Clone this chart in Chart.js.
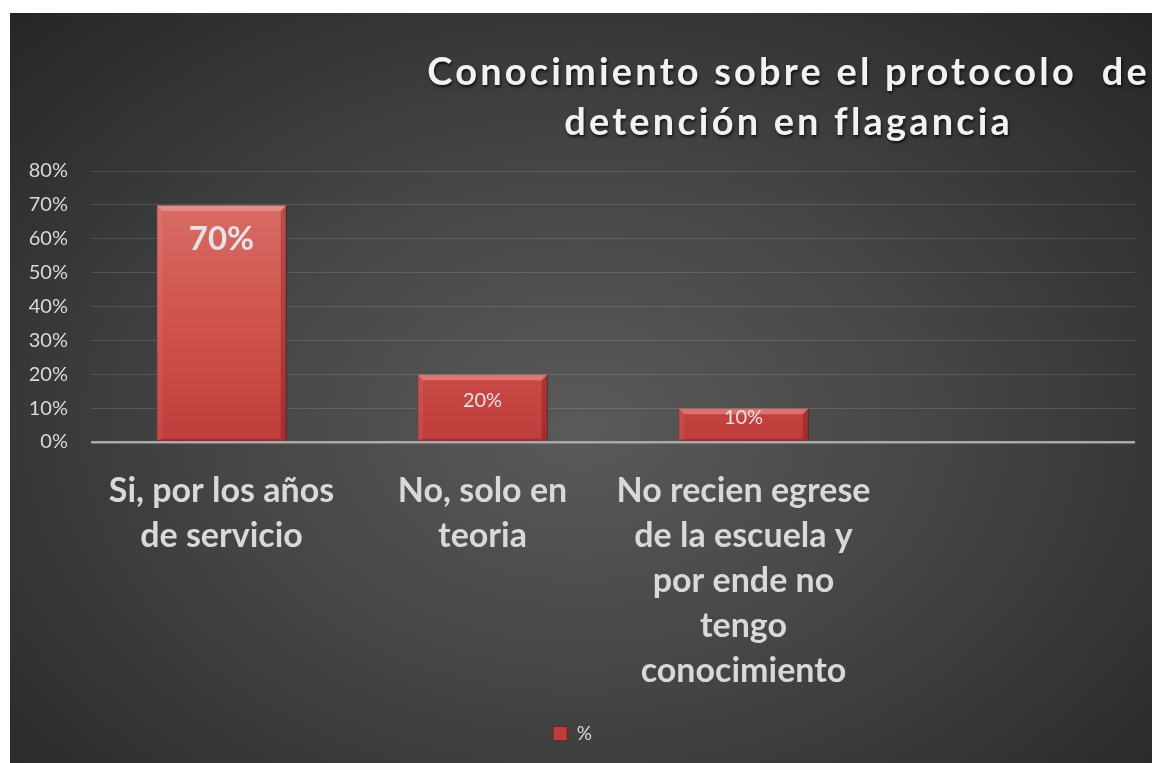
<!DOCTYPE html>
<html>
<head>
<meta charset="utf-8">
<script src="https://cdn.jsdelivr.net/npm/chart.js@4/dist/chart.umd.min.js"></script>
<style>
  html, body { margin: 0; padding: 0; background: #ffffff; width: 1152px; height: 763px; overflow: hidden; }
  #wrap {
    position: absolute; left: 10px; top: 13px; width: 1142px; height: 750px;
    background: radial-gradient(ellipse farthest-corner at 50% 55%, #5a5a5a 0%, #454545 45%, #262626 100%);
  }
  canvas { display: block; }
</style>
</head>
<body>
<div id="wrap"><canvas id="c" width="1142" height="750"></canvas></div>
<script>
// ---- data ----
const titleLines = ["Conocimiento sobre el protocolo  de", "detención en flagancia"];
const categories = [
  ["Si, por los años", "de servicio"],
  ["No, solo en", "teoria"],
  ["No recien egrese", "de la escuela y", "por ende no", "tengo", "conocimiento"],
  ""
];
const seriesName = "%";
const values = [70, 20, 10, null];
const yTicks = [0, 10, 20, 30, 40, 50, 60, 70, 80];

const TEXT = '#d9d9d9';

const titlePlugin = {
  id: 'titleDraw',
  afterDraw(chart) {
    const ctx = chart.ctx;
    ctx.save();
    ctx.font = 'bold 38px Lato';
    ctx.letterSpacing = '0px';
    const w2 = ctx.measureText(titleLines[1]).width;
    const target = 449;
    const ls = Math.max(0, (target - w2) / titleLines[1].length);
    ctx.letterSpacing = ls + 'px';
    ctx.fillStyle = '#f2f2f2';
    ctx.textAlign = 'center';
    ctx.textBaseline = 'alphabetic';
    ctx.shadowColor = 'rgba(0,0,0,0.75)';
    ctx.shadowBlur = 3;
    ctx.shadowOffsetX = 1;
    ctx.shadowOffsetY = 2;
    const cx = 777 + ls / 2;
    ctx.fillText(titleLines[0], cx, 72);
    ctx.fillText(titleLines[1], cx, 122);
    ctx.restore();
  }
};

const barDeco = {
  id: 'barDeco',
  afterDatasetsDraw(chart) {
    const ctx = chart.ctx;
    const meta = chart.getDatasetMeta(0);
    meta.data.forEach((bar, i) => {
      const v = values[i];
      if (v === null || v === undefined) return;
      const p = bar.getProps(['x', 'y', 'base', 'width'], true);
      const l = p.x - p.width / 2, r = p.x + p.width / 2, t = p.y, b = p.base;
      const bv = 6;
      ctx.save();
      ctx.beginPath();
      ctx.moveTo(l, t); ctx.lineTo(r, t); ctx.lineTo(r - bv, t + bv); ctx.lineTo(l + bv, t + bv); ctx.closePath();
      ctx.fillStyle = 'rgba(255,190,185,0.4)';
      ctx.fill();
      ctx.beginPath();
      ctx.moveTo(l, t); ctx.lineTo(l + bv, t + bv); ctx.lineTo(l + bv, b - 2); ctx.lineTo(l, b); ctx.closePath();
      ctx.fillStyle = 'rgba(255,255,255,0.06)';
      ctx.fill();
      ctx.beginPath();
      ctx.moveTo(r, t); ctx.lineTo(r - bv, t + bv); ctx.lineTo(r - bv, b - 2); ctx.lineTo(r, b); ctx.closePath();
      ctx.fillStyle = 'rgba(80,0,0,0.25)';
      ctx.fill();
      ctx.beginPath();
      ctx.moveTo(l, b); ctx.lineTo(l + bv, b - 2); ctx.lineTo(r - bv, b - 2); ctx.lineTo(r, b); ctx.closePath();
      ctx.fillStyle = 'rgba(80,0,0,0.25)';
      ctx.fill();
      const fs = i === 0 ? 33 : 20;
      ctx.font = (i === 0 ? 'bold ' : '') + fs + 'px Lato';
      ctx.fillStyle = '#e3e3e3';
      ctx.textAlign = 'center';
      ctx.textBaseline = 'middle';
      const off = Math.min(18 + fs / 2, (b - t) / 2 - 7);
      ctx.fillText(v + '%', p.x, t + off);
      ctx.restore();
    });
  }
};

function barFill(context) {
  const chart = context.chart;
  const area = chart.chartArea;
  if (!area) return '#cc4b47';
  const g = chart.ctx.createLinearGradient(0, area.top + 30, 0, area.bottom);
  g.addColorStop(0, '#d86c66');
  g.addColorStop(0.5, '#d0534d');
  g.addColorStop(1, '#bf3d3c');
  return g;
}

function build() {
  Chart.defaults.font.family = 'Lato';
  new Chart(document.getElementById('c'), {
    type: 'bar',
    data: {
      labels: categories,
      datasets: [{
        label: seriesName,
        data: values,
        backgroundColor: barFill,
        borderColor: 'rgba(110,25,25,0.7)',
        borderWidth: 1,
        barPercentage: 0.5,
        categoryPercentage: 1.0
      }]
    },
    options: {
      responsive: false,
      animation: false,
      devicePixelRatio: 1,
      layout: { padding: { top: 158, left: 0, right: 17, bottom: 10 } },
      plugins: {
        title: { display: false },
        tooltip: { enabled: false },
        legend: {
          display: true,
          position: 'bottom',
          labels: {
            color: TEXT,
            font: { size: 19, family: 'Lato' },
            boxWidth: 14,
            boxHeight: 14,
            padding: 10
          }
        }
      },
      scales: {
        x: {
          grid: { display: false, drawTicks: false },
          border: { display: false },
          ticks: {
            color: TEXT,
            font: { size: 34, weight: 'bold', family: 'Lato', lineHeight: 1.32 },
            padding: 27,
            maxRotation: 0,
            minRotation: 0,
            autoSkip: false
          },
          afterFit(scale) { scale.height = 272; }
        },
        y: {
          min: 0,
          max: 80,
          afterBuildTicks(scale) { scale.ticks = yTicks.map(v => ({ value: v })); },
          grid: {
            drawTicks: false,
            color: (c) => c.tick && c.tick.value === 0 ? '#a9a9a9' : 'rgba(255,255,255,0.13)',
            lineWidth: (c) => c.tick && c.tick.value === 0 ? 2.5 : 1
          },
          border: { display: false },
          ticks: {
            color: TEXT,
            font: { size: 20, family: 'Lato' },
            padding: 23,
            callback: (v) => v + '%'
          },
          afterFit(scale) { scale.width = 81; }
        }
      }
    },
    plugins: [titlePlugin, barDeco]
  });
}

Promise.all([
  document.fonts.load('bold 30px Lato'),
  document.fonts.load('18px Lato')
]).then(build, build);
</script>
</body>
</html>
